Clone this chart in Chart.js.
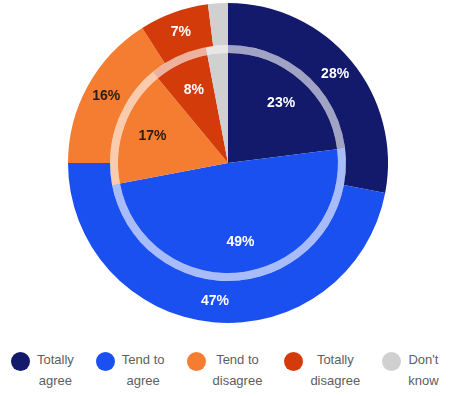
<!DOCTYPE html>
<html>
<head>
<meta charset="utf-8">
<script src="https://cdn.jsdelivr.net/npm/chart.js@4.4.1/dist/chart.umd.min.js"></script>
<style>
  html, body { margin: 0; padding: 0; background: #fff; }
  #wrap { position: relative; width: 449px; height: 396px; overflow: hidden; }
  #box { position: absolute; left: 0; top: 0; width: 449px; height: 330px; }
  #legend {
    position: absolute; left: 11px; top: 349px;
    display: flex; gap: 22px;
    font-family: "Liberation Sans", Arial, sans-serif; font-size: 13px;
    line-height: 21px; color: #5e5e5e;
  }
  .item { display: flex; align-items: flex-start; }
  .dot { width: 19px; height: 19px; border-radius: 50%; margin-top: 3px; margin-right: 7px; flex: none; }
  .txt { text-align: center; }
</style>
</head>
<body>
<div id="wrap">
  <div id="box"><canvas id="chart"></canvas></div>
  <div id="legend"></div>
</div>
<script>
// DONNÉES
const categories = ["Totally agree", "Tend to agree", "Tend to disagree", "Totally disagree", "Don't know"];
const legendLines = [["Totally", "agree"], ["Tend to", "agree"], ["Tend to", "disagree"], ["Totally", "disagree"], ["Don't", "know"]];
const outerValues = [28, 47, 16, 7, 2];
const innerValues = [23, 49, 17, 8, 3];

const colors = ["#13196b", "#1a4ff0", "#f47d32", "#d43b0b", "#d0d0d0"];
const labelColors = ["#ffffff", "#ffffff", "#2b1d12", "#ffffff", "#ffffff"];
// anneau de séparation = couleurs internes éclaircies
const ringColors = ["rgba(19,25,107,0.4)", "rgba(26,79,240,0.38)", "rgba(244,125,50,0.4)", "rgba(212,59,11,0.4)", "rgba(208,208,208,0.5)"];

// étiquettes en % sur chaque arc
const pctLabels = {
  id: "pctLabels",
  afterDatasetsDraw(chart) {
    const ctx = chart.ctx;
    ctx.save();
    ctx.font = "bold 14px 'Liberation Sans', Arial, sans-serif";
    ctx.textAlign = "center";
    ctx.textBaseline = "middle";
    [[0, 0.5], [2, 0.73]].forEach(([di, f]) => {
      const meta = chart.getDatasetMeta(di);
      const values = chart.data.datasets[di].data;
      meta.data.forEach((arc, i) => {
        if (values[i] < 5) return;
        const p = arc.getProps(["x", "y", "startAngle", "endAngle", "innerRadius", "outerRadius"], true);
        const a = (p.startAngle + p.endAngle) / 2;
        const r = p.innerRadius + (p.outerRadius - p.innerRadius) * f;
        ctx.fillStyle = labelColors[i];
        ctx.fillText(values[i] + "%", p.x + Math.cos(a) * r, p.y + Math.sin(a) * r);
      });
    });
    ctx.restore();
  },
};

new Chart(document.getElementById("chart"), {
  type: "doughnut",
  data: {
    labels: categories,
    datasets: [
      { data: outerValues, backgroundColor: colors, borderWidth: 0, weight: 42 },
      { data: innerValues, backgroundColor: ringColors, borderWidth: 0, weight: 8 },
      { data: innerValues, backgroundColor: colors, borderWidth: 0, weight: 110 },
    ],
  },
  options: {
    responsive: true,
    maintainAspectRatio: false,
    animation: false,
    cutout: 0,
    layout: { padding: { left: 7, right: 0, top: 3, bottom: 7 } },
    plugins: { legend: { display: false }, tooltip: { enabled: false } },
  },
  plugins: [pctLabels],
});

// LÉGENDE
const legendEl = document.getElementById("legend");
categories.forEach((c, i) => {
  const item = document.createElement("div");
  item.className = "item";
  const dot = document.createElement("span");
  dot.className = "dot";
  dot.style.background = colors[i];
  const txt = document.createElement("div");
  txt.className = "txt";
  txt.innerHTML = legendLines[i].join("<br>");
  item.appendChild(dot);
  item.appendChild(txt);
  legendEl.appendChild(item);
});
</script>
</body>
</html>
